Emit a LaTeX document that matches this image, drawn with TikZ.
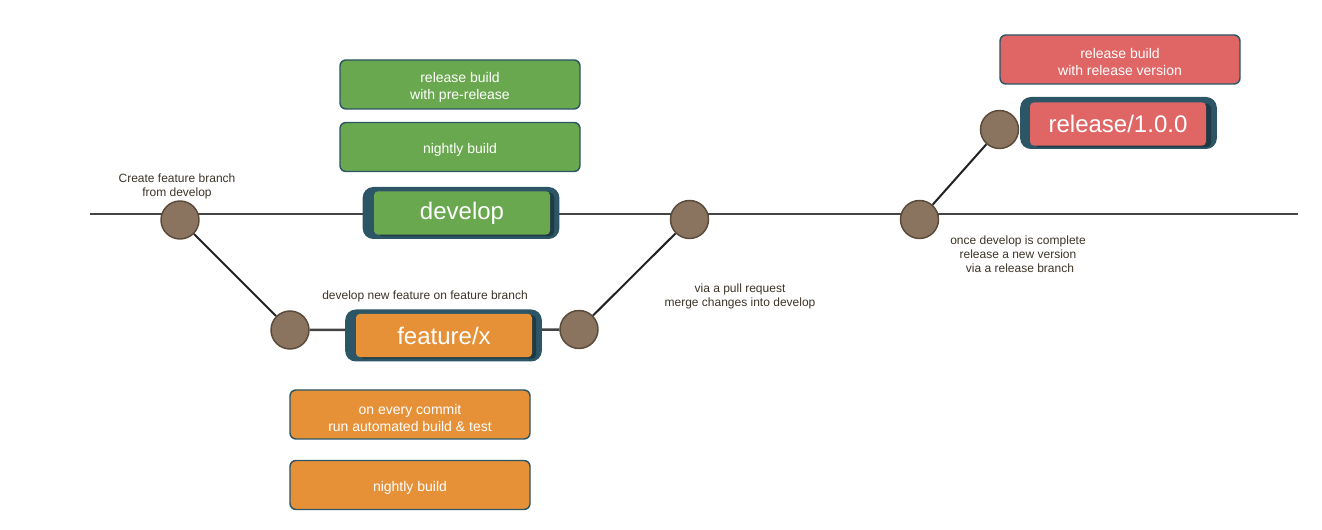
\documentclass[tikz,border=0pt]{standalone}
\usepackage{fontspec}
\setmainfont{Liberation Sans}
\usetikzlibrary{backgrounds}
\definecolor{gGreen}{HTML}{6AA84F}
\definecolor{gOrange}{HTML}{E69138}
\definecolor{gRed}{HTML}{E06666}
\definecolor{gTeal}{HTML}{2C5566}
\definecolor{gShadow}{HTML}{1E3A45}
\definecolor{cFill}{HTML}{8A735F}
\definecolor{cBorder}{HTML}{5B4B3B}
\definecolor{noteText}{HTML}{3D3428}
\definecolor{lineGray}{HTML}{444444}
\definecolor{lineDark}{HTML}{222222}
\begin{document}
\begin{tikzpicture}[x=0.75pt,y=-0.75pt,
  commit/.style={circle, draw=cBorder, fill=cFill, line width=1.1pt, minimum size=28.5pt, inner sep=0pt},
  buildtext/.style={text=white, align=center, inner sep=0pt, yshift=-2.25pt, font=\fontsize{10.5}{12.75}\selectfont},
  build/.style={draw=gTeal, line width=1.1pt, rounded corners=4.5pt, minimum width=180pt, minimum height=36.75pt, inner sep=0pt, label={[buildtext]center:#1}},
  branchouter/.style={fill=gTeal, rounded corners=8pt, minimum width=147.5pt, minimum height=39pt, inner sep=0pt},
  branchshadow/.style={fill=gShadow, rounded corners=3pt, minimum width=132pt, minimum height=32.5pt, inner sep=0pt},
  branchinner/.style={rounded corners=3pt, minimum width=132pt, minimum height=32.5pt, text=white, inner sep=0pt, font=\fontsize{18}{18}\selectfont},
  note/.style={text=noteText, align=center, inner sep=0pt, font=\fontsize{9}{10.5}\selectfont},
  mainline/.style={draw=lineGray, line width=1.9pt},
  branchline/.style={draw=lineDark, line width=1.5pt}
]
\useasboundingbox (0,0) rectangle (1322,530);

% commits
\node[commit] (c1) at (180,220) {};
\node[commit] (c2) at (290,330) {};
\node[commit] (c3) at (579,329.5) {};
\node[commit] (c4) at (689.5,219.5) {};
\node[commit] (c5) at (919.5,219.5) {};
\node[commit] (c6) at (999.5,129.5) {};
\coordinate (mL) at (90,214);
\coordinate (mR) at (1298,214);

% branch labels
\node[branchouter] (developO) at (461,213) {};
\node[branchshadow] (developS) at (466,214.5) {};
\node[branchinner, fill=gGreen] (develop) at (462,213) {develop};

\node[branchouter] (featureO) at (443.5,335.5) {};
\node[branchshadow] (featureS) at (448,337) {};
\node[branchinner, fill=gOrange] (feature) at (444,335.5) {feature/x};

\node[branchouter] (releaseO) at (1118.5,123) {};
\node[branchshadow] (releaseS) at (1123,125.5) {};
\node[branchinner, fill=gRed] (release) at (1118,124) {release/1.0.0};

% build boxes
\node[build={release build\\with pre-release}, fill=gGreen] (b1) at (460,84.5) {};
\node[build={nightly build}, fill=gGreen] (b2) at (460,147) {};
\node[build={release build\\with release version}, fill=gRed] (b3) at (1120,59.5) {};
\node[build={on every commit\\run automated build \& test}, fill=gOrange] (b4) at (410,414.5) {};
\node[build={nightly build}, fill=gOrange] (b5) at (410,485) {};

% notes
\node[note] (n1) at (177,186) {Create feature branch\\from develop};
\node[note] (n2) at (425,296) {develop new feature on feature branch};
\node[note] (n3) at (740,296) {via a pull request\\merge changes into develop};
\node[note] (n4) at (1018,254) {once develop is complete\\release a new version\\\hspace*{3pt}via a release branch};

% connectors
\begin{scope}[on background layer]
  \draw[mainline] (mL) -- (mR);
  \draw[mainline] (c2) -- (c3);
  \draw[branchline] (c1) -- (c2);
  \draw[branchline] (c3) -- (c4);
  \draw[branchline] (c5) -- (c6);
\end{scope}
\end{tikzpicture}
\end{document}
